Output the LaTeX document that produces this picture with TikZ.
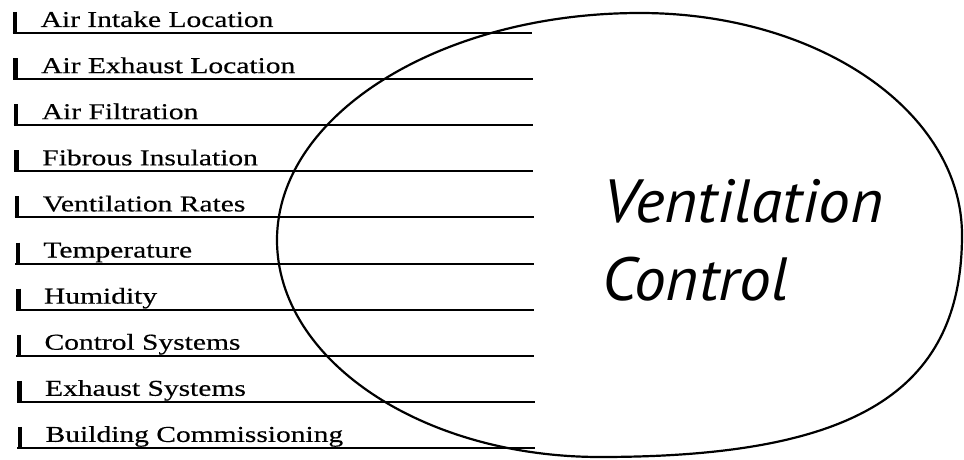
\documentclass[tikz,border=0pt]{standalone}
\usepackage{fontspec}
\usetikzlibrary{positioning}
\newfontfamily\itemfont[FakeStretch=1.3, FakeBold=0.4]{Liberation Serif}
\newfontfamily\ovalfont[FakeStretch=1.04]{PT Sans}
\tikzset{
    itemlab/.style={anchor=base west, inner sep=0pt, font=\itemfont\fontsize{22.7}{27}\selectfont},
    underline/.style={line width=2pt},
    tickbar/.style={line width=4.5pt},
    oval/.style={line width=2.2pt},
    ovallab/.style={anchor=base west, inner sep=0pt, font=\ovalfont\itshape\fontsize{61}{78}\selectfont},
}

\begin{document}
\begin{tikzpicture}[x=1pt, y=-1pt]
\useasboundingbox (0,0) rectangle (964,460);

% ── Factor list (left) ──
\foreach \lab [count=\i] in {Air Intake Location, Air Exhaust Location, Air Filtration,
    Fibrous Insulation, Ventilation Rates, Temperature, Humidity,
    Control Systems, Exhaust Systems, Building Commissioning} {
    \pgfmathsetmacro\ly{33+46.1*(\i-1)}
    \pgfmathsetmacro\lx{0.55*(\i-1)}
    \coordinate (ul\i) at (12.5+\lx,\ly);
    \coordinate (ur\i) at (532+0.3*\i,\ly);
    \coordinate (bt\i) at (15+\lx,\ly-21);
    \node[itemlab] (lab\i) at (40.5+\lx,\ly-6) {\lab};
    \draw[underline] (ul\i) -- (ur\i);
    \draw[tickbar] (bt\i) -- (bt\i |- ul\i);
}

% ── Oval (right) ──
\coordinate (ovW) at (277,240);
\coordinate (ovN) at (640,13);
\coordinate (ovE) at (962,235);
\coordinate (ovS) at (600,457);
\draw[oval] (ovW) .. controls (277,115) and (440,13) .. (ovN)
    .. controls (819,13) and (962,112) .. (ovE)
    .. controls (962,395) and (850,457) .. (ovS)
    .. controls (422,457) and (277,360) .. (ovW) -- cycle;

% ── Title ──
\node[ovallab] (vent) at (603,222) {Ventilation};
\node[ovallab] (ctrl) at (602,300) {Control};

\end{tikzpicture}
\end{document}
